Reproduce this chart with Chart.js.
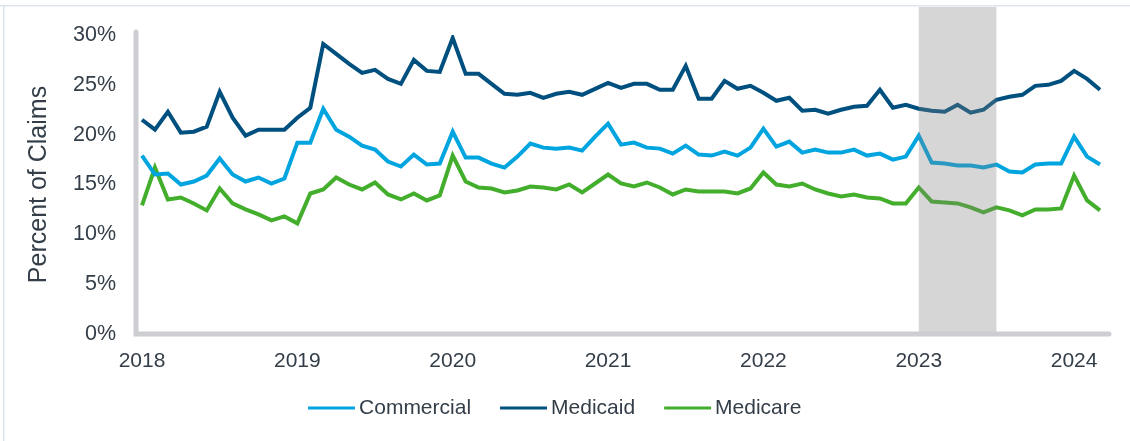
<!DOCTYPE html>
<html>
<head>
<meta charset="utf-8">
<script src="https://cdn.jsdelivr.net/npm/chart.js@4.4.1/dist/chart.umd.min.js"></script>
<style>
  html, body { margin: 0; padding: 0; background: #fff; }
  #wrap { width: 1130px; height: 441px; }
</style>
</head>
<body>
<div id="wrap"><canvas id="chart"></canvas></div>
<script>
const yearTicks = ['2018', '2019', '2020', '2021', '2022', '2023', '2024']
const monthNames = ['Jan', 'Feb', 'Mar', 'Apr', 'May', 'Jun', 'Jul', 'Aug', 'Sep', 'Oct', 'Nov', 'Dec']

// monthly, Jan 2018 .. Mar 2024
const months = []
yearTicks.forEach(y => monthNames.forEach(m => months.push(m + ' ' + y)))
months.length = 75

const commercial = [
  17.9, 16.0, 16.1, 15.0, 15.3, 15.9, 17.6, 16.0, 15.3, 15.7, 15.1, 15.6,
  19.2, 19.2, 22.6, 20.5, 19.8, 18.9, 18.5, 17.3, 16.8, 18.0, 17.0, 17.1,
  20.3, 17.7, 17.7, 17.1, 16.7, 17.8, 19.1, 18.7, 18.6, 18.7, 18.4, 19.8,
  21.1, 19.0, 19.2, 18.7, 18.6, 18.1, 18.9, 18.0, 17.9, 18.3, 17.9, 18.7,
  20.6, 18.8, 19.3, 18.2, 18.5, 18.2, 18.2, 18.5, 17.9, 18.1, 17.5, 17.8,
  19.9, 17.2, 17.1, 16.9, 16.9, 16.7, 17.0, 16.3, 16.2, 17.0, 17.1, 17.1,
  19.8, 17.8, 17.0,
]
const medicaid = [
  21.5, 20.5, 22.3, 20.2, 20.3, 20.8, 24.3, 21.7, 19.9, 20.5, 20.5, 20.5,
  21.7, 22.7, 29.1, 28.1, 27.1, 26.2, 26.5, 25.6, 25.1, 27.5, 26.4, 26.3,
  29.7, 26.1, 26.1, 25.1, 24.1, 24.0, 24.2, 23.7, 24.1, 24.3, 24.0, 24.6,
  25.2, 24.7, 25.1, 25.1, 24.5, 24.5, 26.9, 23.6, 23.6, 25.4, 24.6, 24.9,
  24.2, 23.4, 23.7, 22.4, 22.5, 22.1, 22.5, 22.8, 22.9, 24.5, 22.7, 23.0,
  22.6, 22.4, 22.3, 23.0, 22.2, 22.5, 23.5, 23.8, 24.0, 24.9, 25.0, 25.4,
  26.4, 25.6, 24.5,
]
const medicare = [
  12.9, 16.7, 13.5, 13.7, 13.1, 12.4, 14.6, 13.1, 12.5, 12.0, 11.4, 11.8,
  11.1, 14.1, 14.5, 15.7, 15.0, 14.5, 15.2, 14.0, 13.5, 14.1, 13.4, 13.9,
  17.9, 15.3, 14.7, 14.6, 14.2, 14.4, 14.8, 14.7, 14.5, 15.0, 14.2, 15.1,
  16.0, 15.1, 14.8, 15.2, 14.7, 14.0, 14.5, 14.3, 14.3, 14.3, 14.1, 14.6,
  16.2, 15.0, 14.8, 15.1, 14.5, 14.1, 13.8, 14.0, 13.7, 13.6, 13.1, 13.1,
  14.7, 13.3, 13.2, 13.1, 12.7, 12.2, 12.7, 12.4, 11.9, 12.5, 12.5, 12.6,
  15.9, 13.4, 12.4,
]

// shaded band
const shadeFrom = 'Jan 2023'
const shadeTo = 'Jul 2023'

const textColor = '#333e48'
const fontFamily = "Arial, 'Liberation Sans', sans-serif"

const framePlugin = {
  id: 'frame',
  beforeDraw(chart) {
    const ctx = chart.ctx
    ctx.save()
    ctx.fillStyle = '#dfe5ea'
    ctx.fillRect(0, 5, chart.width, 1.5)
    ctx.fillRect(3, 5, 1.5, chart.height)
    ctx.restore()
  },
  afterDatasetsDraw(chart) {
    const { ctx, chartArea } = chart
    const x = chart.scales.x
    const x0 = x.getPixelForValue(months.indexOf(shadeFrom))
    const x1 = x.getPixelForValue(months.indexOf(shadeTo))
    ctx.save()
    ctx.fillStyle = 'rgba(128,128,128,0.32)'
    ctx.fillRect(x0, 7, x1 - x0, chartArea.bottom - 7)

    ctx.strokeStyle = '#cdced2'
    ctx.lineWidth = 5
    ctx.lineCap = 'round'
    ctx.beginPath()
    ctx.moveTo(chartArea.left - 6, chartArea.top - 3)
    ctx.lineTo(chartArea.left - 6, chartArea.bottom)
    ctx.lineTo(chartArea.right + 9, chartArea.bottom)
    ctx.stroke()
    ctx.restore()
  },
}

// legend swatch: a short thick line at the right end of the image, drawn as point style
function swatch(color) {
  const c = document.createElement('canvas')
  c.width = 59
  c.height = 4
  const g = c.getContext('2d')
  g.fillStyle = color
  g.fillRect(12, 0.5, 47, 3)
  return c
}

function series(label, data, color) {
  return {
    label,
    data,
    borderColor: color,
    backgroundColor: color,
    borderWidth: 4,
    pointRadius: 0,
    pointStyle: swatch(color),
    tension: 0,
    borderJoinStyle: 'miter',
  }
}

new Chart(document.getElementById('chart'), {
  type: 'line',
  data: {
    labels: months,
    datasets: [
      series('Commercial', commercial, '#00a5e0'),
      series('Medicaid', medicaid, '#00507f'),
      series('Medicare', medicare, '#43ae2c'),
    ],
  },
  options: {
    responsive: true,
    maintainAspectRatio: false,
    animation: false,
    layout: { padding: { top: 35, right: 30, left: 4, bottom: 12.5 } },
    plugins: {
      tooltip: { enabled: false },
      legend: {
        position: 'bottom',
        labels: {
          color: textColor,
          font: { family: fontFamily, size: 21 },
          usePointStyle: true,
          pointStyleWidth: 46,
          padding: 23.5,
        },
      },
    },
    scales: {
      x: {
        grid: { display: false, drawTicks: false },
        border: { display: false },
        afterFit(scale) { scale.height = 40 },
        ticks: {
          autoSkip: false,
          maxRotation: 0,
          padding: 15,
          color: textColor,
          font: { family: fontFamily, size: 21 },
          callback(value, index) {
            return index % 12 === 0 ? yearTicks[index / 12] : null
          },
        },
      },
      y: {
        min: 0,
        max: 30,
        grid: { display: false, drawTicks: false },
        border: { display: false },
        afterFit(scale) {
          scale.width = 138
          scale.paddingTop = 0
          scale.paddingBottom = 0
        },
        ticks: {
          stepSize: 5,
          padding: 26,
          color: textColor,
          font: { family: fontFamily, size: 21.5 },
          callback: v => v + '%',
        },
        title: {
          display: true,
          text: 'Percent of Claims',
          color: textColor,
          font: { family: fontFamily, size: 25 },
          padding: { top: 20, bottom: 0 },
        },
      },
    },
  },
  plugins: [framePlugin],
})
</script>
</body>
</html>
